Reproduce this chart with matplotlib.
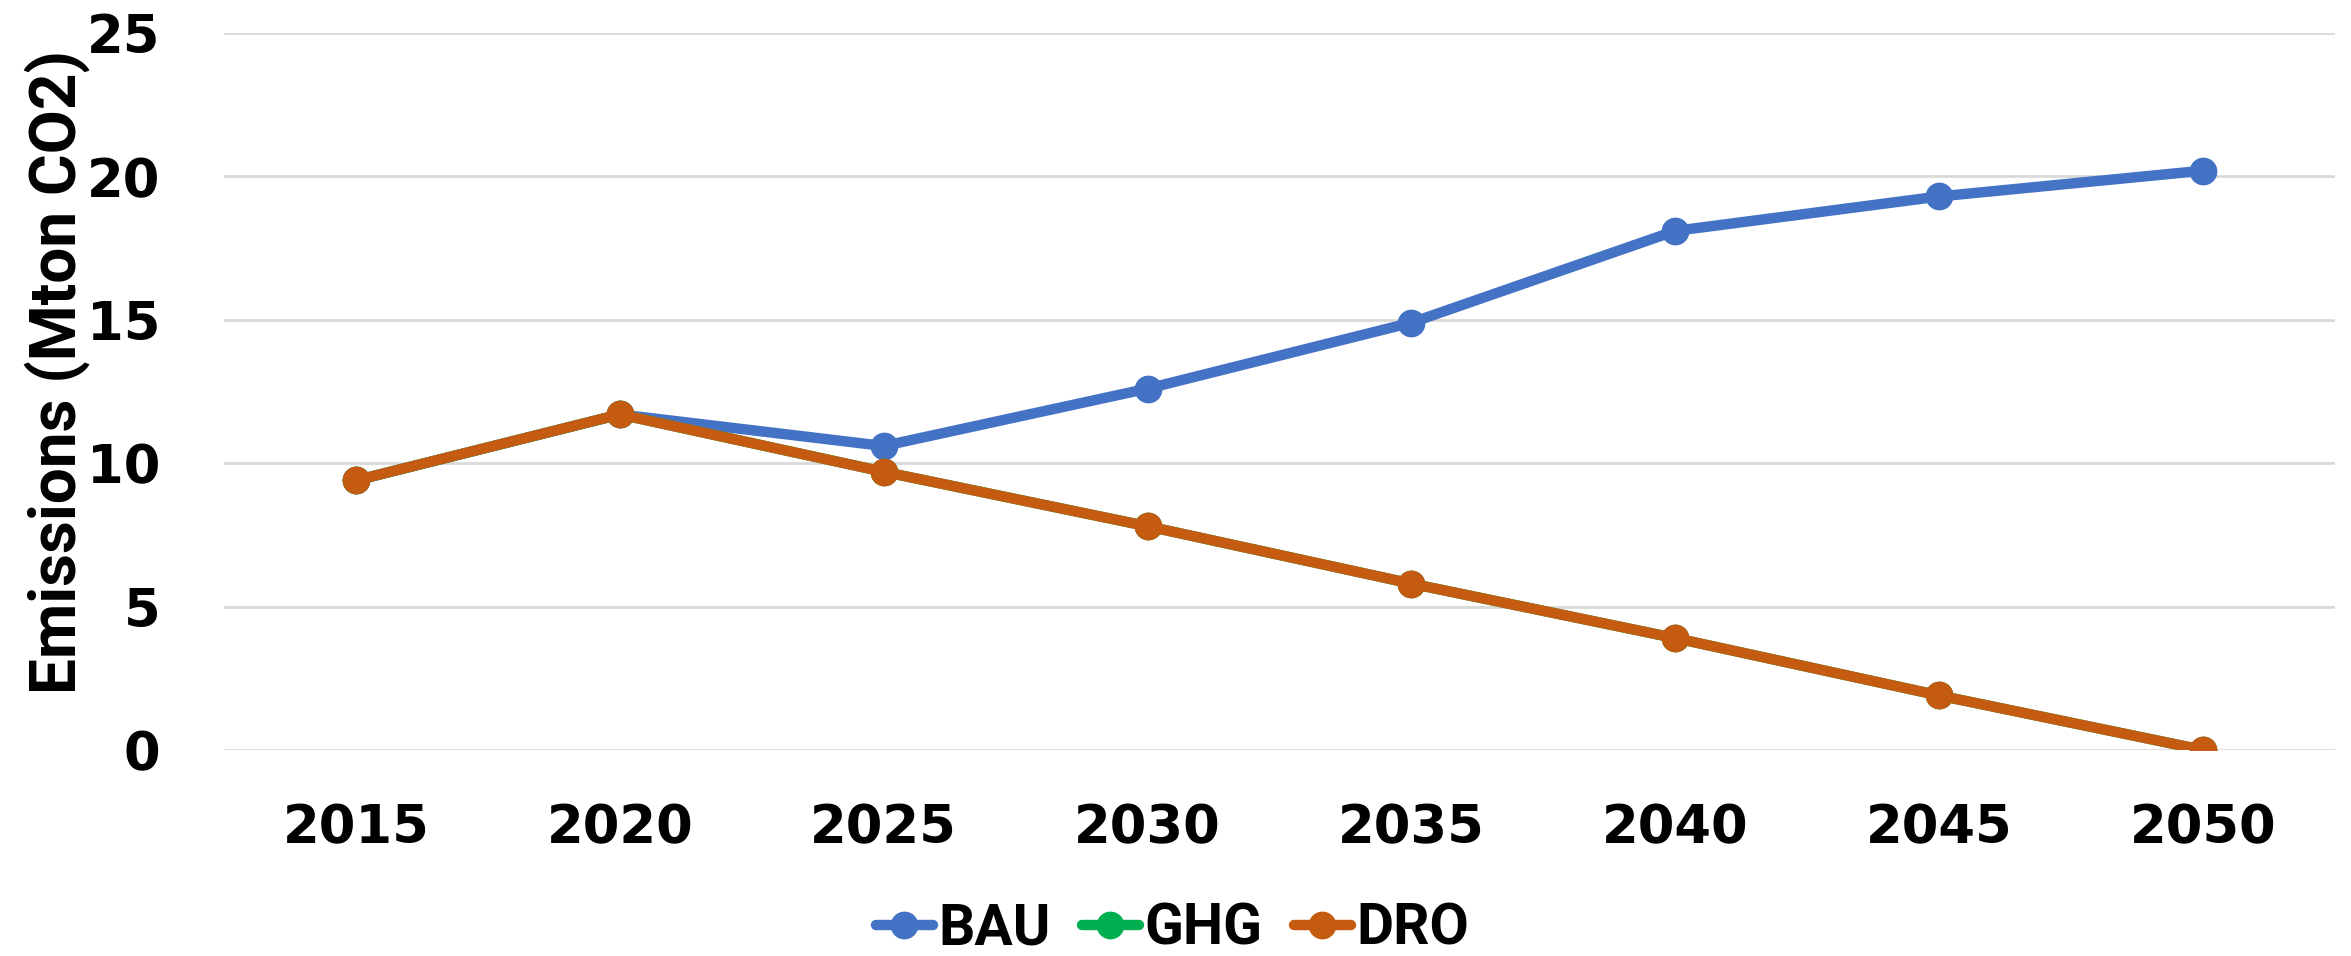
"""
Emissions scenarios line chart (BAU / GHG / DRO).
"""

import matplotlib
matplotlib.use("Agg")
import matplotlib.pyplot as plt

years = ["2015", "2020", "2025", "2030", "2035", "2040", "2045", "2050"]
bau = [9.4, 11.7, 10.6, 12.6, 14.9, 18.1, 19.3, 20.2]
ghg = [9.4, 11.7, 9.7, 7.8, 5.8, 3.9, 1.9, 0.0]
dro = [9.4, 11.7, 9.7, 7.8, 5.8, 3.9, 1.9, 0.0]
y_ticks = [0, 5, 10, 15, 20, 25]

series = [("BAU", bau, "#4472C4"), ("GHG", ghg, "#00B050"), ("DRO", dro, "#C55A11")]

fig = plt.figure(figsize=(23.51, 9.56), dpi=100)
ax = fig.add_axes([0.0953, 0.2155, 0.8979, 0.75])

x = list(range(len(years)))
for name, vals, color in series:
    ax.plot(x, vals, color=color, lw=7.5, marker="o", ms=19,
            solid_capstyle="round", label=name, zorder=3)

ax.set_xlim(-0.5, len(years) - 0.5)
ax.set_ylim(0, 25)
ax.set_yticks(y_ticks)
ax.set_xticks(x)
ax.set_xticklabels(years)
ax.grid(axis="y", color="#D9D9D9", lw=2, zorder=0)
ax.set_axisbelow(True)
for sp in ax.spines.values():
    sp.set_visible(False)
ax.tick_params(axis="both", length=0, labelsize=38)
ax.tick_params(axis="y", pad=46)
ax.tick_params(axis="x", pad=38)
for lab in ax.get_xticklabels() + ax.get_yticklabels():
    lab.set_fontweight("bold")
    lab.set_family("DejaVu Sans")

ax.set_ylabel("Emissions (Mton CO2)", fontsize=46, fontweight="bold", family="Roboto")
ax.yaxis.set_label_coords(-0.0635, 0.527)

fig.legend(loc="center", bbox_to_anchor=(0.4987, 0.028), ncol=3, frameon=False,
           prop={"family": "Roboto", "weight": "bold", "size": 41},
           handlelength=1.0, handletextpad=0.1, columnspacing=0.55, borderaxespad=0)

fig.savefig("out.png", dpi=100)
